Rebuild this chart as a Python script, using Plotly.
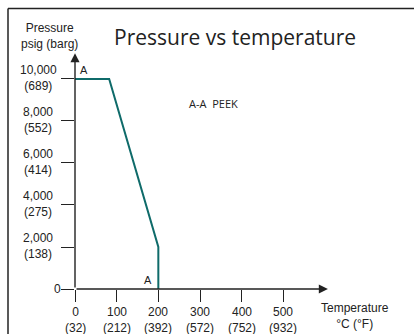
import plotly.graph_objects as go

# Pressure rating curve (temperature in °C, pressure in psig)
curve_temp_c = [0, 82, 200, 200]
curve_psig = [10000, 10000, 2000, 0]

# Axis tick values and their dual-unit labels
x_ticks_c = [0, 100, 200, 300, 400, 500]
x_ticks_f = ["(32)", "(212)", "(392)", "(572)", "(752)", "(932)"]
y_ticks_psig = [2000, 4000, 6000, 8000, 10000]
y_ticks_psig_text = ["2,000", "4,000", "6,000", "8,000", "10,000"]
y_ticks_barg = ["(138)", "(275)", "(414)", "(552)", "(689)"]

W, H = 414, 334
L, R, T, B = 75, 74, 50, 45
X_MAX = 636
Y_MAX = 11380
AXIS_X_END = 607
AXIS_Y_END = 11230

NARROW = "Liberation Sans Narrow, Arial Narrow, Liberation Sans, sans-serif"
HUMAN = "Open Sans, Noto Sans, sans-serif"
TEAL = "#0f6b6a"
INK = "#222222"

fig = go.Figure()
fig.add_trace(go.Scatter(
    x=curve_temp_c, y=curve_psig, mode="lines",
    line=dict(color=TEAL, width=2), hoverinfo="skip", showlegend=False,
))

pw = W - L - R
ph = H - T - B


def px_to_paper_x(px):
    return (px - L) / pw


def px_to_paper_y(py):
    return (H - B - py) / ph


annotations = []

# axis arrows
annotations.append(dict(x=0, y=AXIS_Y_END, ax=0, ay=0, xref="x", yref="y",
                        axref="x", ayref="y", showarrow=True, arrowhead=2,
                        arrowsize=1.3, arrowwidth=1.4, arrowcolor=INK, text=""))
annotations.append(dict(x=AXIS_X_END, y=0, ax=0, ay=0, xref="x", yref="y",
                        axref="x", ayref="y", showarrow=True, arrowhead=2,
                        arrowsize=1.3, arrowwidth=1.4, arrowcolor=INK, text=""))

# y tick labels (psig over barg)
for v, t1, t2 in zip(y_ticks_psig, y_ticks_psig_text, y_ticks_barg):
    annotations.append(dict(x=0, y=v, xref="x", yref="y", xshift=-37, yshift=1,
                            text=f"{t1}<br>{t2}", showarrow=False,
                            xanchor="center", yanchor="middle", align="center",
                            font=dict(family=NARROW, size=12, color=INK)))
annotations.append(dict(x=0, y=0, xref="x", yref="y", xshift=-18, text="0",
                        showarrow=False, xanchor="center", yanchor="middle",
                        font=dict(family=NARROW, size=12, color=INK)))

# x tick labels (°C over °F)
for v, tf in zip(x_ticks_c, x_ticks_f):
    annotations.append(dict(x=v, y=0, xref="x", yref="y", yshift=-15,
                            text=f"{v}<br>{tf}", showarrow=False,
                            xanchor="center", yanchor="top", align="center",
                            borderpad=0,
                            font=dict(family=NARROW, size=12, color=INK)))

# axis titles
annotations.append(dict(x=px_to_paper_x(49), y=px_to_paper_y(36), xref="paper", yref="paper",
                        text="Pressure<br>psig (barg)", showarrow=False,
                        xanchor="center", yanchor="middle", align="center",
                        font=dict(family=NARROW, size=12, color=INK)))
annotations.append(dict(x=px_to_paper_x(355), y=px_to_paper_y(316), xref="paper", yref="paper",
                        text="Temperature<br>°C (°F)", showarrow=False,
                        xanchor="center", yanchor="middle", align="center",
                        font=dict(family=NARROW, size=12, color=INK)))

# title
annotations.append(dict(x=px_to_paper_x(235), y=px_to_paper_y(37), xref="paper", yref="paper",
                        text="Pressure vs temperature", showarrow=False,
                        xanchor="center", yanchor="middle",
                        font=dict(family=HUMAN, size=21, color=INK)))

# section markers and material label
annotations.append(dict(x=0, y=10000, xref="x", yref="y", xshift=9, yshift=9,
                        text="A", showarrow=False, xanchor="center", yanchor="middle",
                        font=dict(family=NARROW, size=11, color=INK)))
annotations.append(dict(x=200, y=0, xref="x", yref="y", xshift=-10, yshift=9,
                        text="A", showarrow=False, xanchor="center", yanchor="middle",
                        font=dict(family=NARROW, size=11, color=INK)))
annotations.append(dict(x=px_to_paper_x(213), y=px_to_paper_y(103), xref="paper", yref="paper",
                        text="A-A  PEEK", showarrow=False, xanchor="center", yanchor="middle",
                        font=dict(family=HUMAN, size=11, color=INK)))

# frame edges (top and left)
shapes = [
    dict(type="line", xref="paper", yref="paper",
         x0=px_to_paper_x(8), x1=px_to_paper_x(W + 2),
         y0=px_to_paper_y(8.5), y1=px_to_paper_y(8.5),
         line=dict(color=INK, width=1.5)),
    dict(type="line", xref="paper", yref="paper",
         x0=px_to_paper_x(8), x1=px_to_paper_x(8),
         y0=px_to_paper_y(8.5), y1=px_to_paper_y(H + 2),
         line=dict(color=INK, width=1.5)),
]

fig.update_layout(
    width=W, height=H,
    margin=dict(l=L, r=R, t=T, b=B, pad=0),
    paper_bgcolor="white", plot_bgcolor="white",
    annotations=annotations, shapes=shapes,
    xaxis=dict(range=[0, X_MAX], tickvals=x_ticks_c, ticks="outside", ticklen=12,
               tickwidth=1.2, tickcolor=INK, showticklabels=False, showgrid=False,
               zeroline=False, showline=False, fixedrange=True),
    yaxis=dict(range=[0, Y_MAX], tickvals=[0] + y_ticks_psig, ticks="outside", ticklen=13,
               tickwidth=1.2, tickcolor=INK, showticklabels=False, showgrid=False,
               zeroline=False, showline=False, fixedrange=True),
    showlegend=False,
)

fig.write_html("out.html")
